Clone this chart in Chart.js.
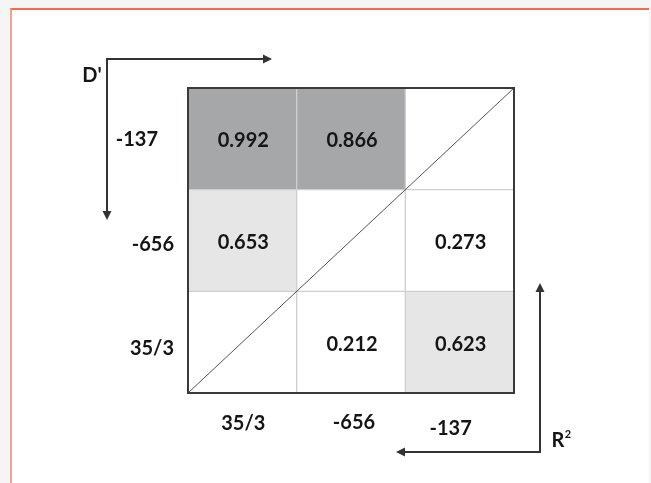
<!DOCTYPE html>
<html>
<head>
<meta charset="utf-8">
<script src="https://cdn.jsdelivr.net/npm/chart.js@4"></script>
<style>
  html, body { margin: 0; padding: 0; background: #f4f5f4; width: 651px; height: 483px; overflow: hidden; }
  #frame { position: absolute; left: 10px; top: 8px; width: 639px; height: 475px; background: #ffffff;
           border-top: 2px solid #f36c52; border-left: 2px solid #f7a28c; box-sizing: border-box; }
  #c { position: absolute; left: 0; top: 0; }
</style>
</head>
<body>
<div id="frame"></div>
<canvas id="c" width="651" height="483"></canvas>
<script>
// ---- data ----
const colLabels = ['35/3', '-656', '-137'];        // x axis, left to right
const rowLabels = ['-137', '-656', '35/3'];        // y axis, top to bottom
const rowTop    = [0.992, 0.866, null];            // row "-137"
const rowMid    = [0.653, null, 0.273];            // row "-656"
const rowBottom = [null, 0.212, 0.623];            // row "35/3"
const upperLabel = "D'";
const lowerLabel = 'R²';

const rows = [rowTop, rowMid, rowBottom];
const FONT = 'Lato, "Open Sans", sans-serif';

function cellColor(v) {
  if (v == null) return '#ffffff';
  if (v >= 0.8) return '#a6a7a9';
  if (v >= 0.6) return '#e6e6e6';
  return '#ffffff';
}

const datasets = rows.map((vals, r) => ({
  label: rowLabels[r],
  data: vals.map(() => [rows.length - r - 1, rows.length - r]),
  values: vals,
  backgroundColor: vals.map(cellColor),
  borderColor: '#cfcfcf',
  borderWidth: 1,
  borderSkipped: false,
  grouped: false,
  barPercentage: 1,
  categoryPercentage: 1
}));

const decor = {
  id: 'decor',
  afterDatasetsDraw(chart) {
    const ctx = chart.ctx;
    const a = chart.chartArea;
    const xs = chart.scales.x, ys = chart.scales.y;
    ctx.save();
    // cell values
    ctx.fillStyle = '#151515';
    ctx.font = 'bold 20px ' + FONT;
    ctx.textAlign = 'center';
    ctx.textBaseline = 'middle';
    chart.data.datasets.forEach((ds, di) => {
      const meta = chart.getDatasetMeta(di);
      meta.data.forEach((bar, i) => {
        const v = ds.values[i];
        if (v == null) return;
        const cy = (bar.y + bar.base) / 2;
        ctx.fillText(v.toFixed(3), bar.x + 1, cy + 2);
      });
    });
    // diagonal
    ctx.strokeStyle = '#555555';
    ctx.lineWidth = 1;
    ctx.beginPath();
    ctx.moveTo(a.left, a.bottom);
    ctx.lineTo(a.right, a.top);
    ctx.stroke();
    // outer border
    ctx.strokeStyle = '#3a3a3a';
    ctx.lineWidth = 2;
    ctx.strokeRect(a.left, a.top, a.right - a.left, a.bottom - a.top);

    // axis labels
    ctx.fillStyle = '#151515';
    ctx.font = 'bold 20px ' + FONT;
    const xOff = [[1, 31], [3, 30], [-9, 36]];
    colLabels.forEach((lab, i) => {
      ctx.textAlign = 'center';
      ctx.fillText(lab, xs.getPixelForValue(i) + xOff[i][0], a.bottom + xOff[i][1]);
    });
    const yOff = [[-30, 1], [-14, 4], [-14, 6]];
    rowLabels.forEach((lab, r) => {
      const cy = ys.getPixelForValue(rows.length - r - 0.5);
      ctx.textAlign = 'right';
      ctx.fillText(lab, a.left + yOff[r][0], cy + yOff[r][1]);
    });

    // arrows
    ctx.strokeStyle = '#333333';
    ctx.fillStyle = '#333333';
    ctx.lineWidth = 2;
    function head(x, y, dir) {
      ctx.beginPath();
      const s = 9, w = 4.5;
      if (dir === 'right') { ctx.moveTo(x, y); ctx.lineTo(x - s, y - w); ctx.lineTo(x - s, y + w); }
      if (dir === 'left')  { ctx.moveTo(x, y); ctx.lineTo(x + s, y - w); ctx.lineTo(x + s, y + w); }
      if (dir === 'down')  { ctx.moveTo(x, y); ctx.lineTo(x - w, y - s); ctx.lineTo(x + w, y - s); }
      if (dir === 'up')    { ctx.moveTo(x, y); ctx.lineTo(x - w, y + s); ctx.lineTo(x + w, y + s); }
      ctx.closePath();
      ctx.fill();
    }
    // D' arrow (top-left)
    const dx = a.left - 81, dy = a.top - 29;
    ctx.beginPath();
    ctx.moveTo(dx, a.top + 128);
    ctx.lineTo(dx, dy);
    ctx.lineTo(a.left + 80, dy);
    ctx.stroke();
    head(dx, a.top + 132, 'down');
    head(a.left + 84, dy, 'right');
    // R² arrow (bottom-right)
    const rx = a.right + 26, ry = a.bottom + 59;
    ctx.beginPath();
    ctx.moveTo(rx, a.bottom - 106);
    ctx.lineTo(rx, ry);
    ctx.lineTo(a.right - 114, ry);
    ctx.stroke();
    head(rx, a.bottom - 110, 'up');
    head(a.right - 118, ry, 'left');

    // labels D' and R²
    ctx.fillStyle = '#151515';
    ctx.font = 'bold 20px ' + FONT;
    ctx.textAlign = 'center';
    ctx.fillText(upperLabel, a.left - 96, a.top - 12);
    ctx.fillText('R', a.right + 44, a.bottom + 48);
    ctx.font = 'bold 11px ' + FONT;
    ctx.fillText('2', a.right + 54, a.bottom + 41);
    ctx.restore();
  }
};

new Chart(document.getElementById('c'), {
  type: 'bar',
  data: { labels: colLabels, datasets },
  options: {
    responsive: false,
    animation: false,
    layout: { padding: { left: 188, top: 88, right: 137, bottom: 90 } },
    plugins: { legend: { display: false }, tooltip: { enabled: false } },
    scales: {
      x: { type: 'category', display: false, offset: true },
      y: { type: 'linear', display: false, min: 0, max: 3 }
    }
  },
  plugins: [decor]
});
</script>
</body>
</html>
